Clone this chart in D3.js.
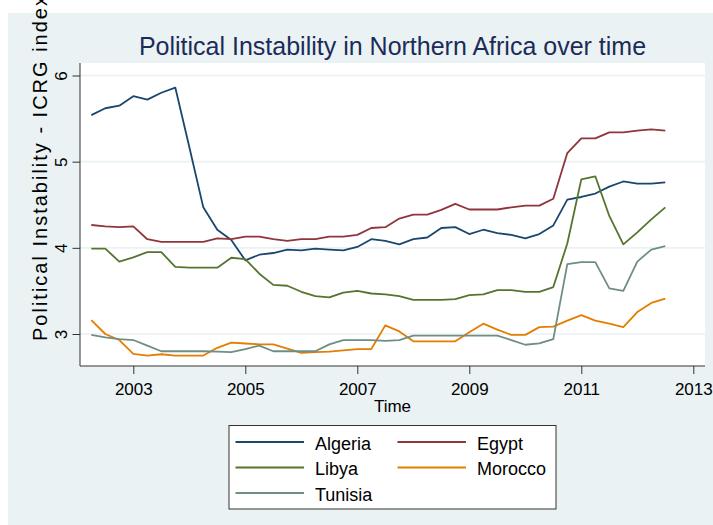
<!DOCTYPE html>
<html>
<head>
<meta charset="utf-8">
<script src="https://cdn.jsdelivr.net/npm/d3@7"></script>
<style>
  body { margin: 0; background: #fff; }
  text { font-family: "Liberation Sans", Arial, sans-serif; }
</style>
</head>
<body>
<div id="chart"></div>
<script>
// Quarterly observations, 2002q2 - 2012q3
const quarters = [
    "2002q2", "2002q3", "2002q4",
    "2003q1", "2003q2", "2003q3", "2003q4",
    "2004q1", "2004q2", "2004q3", "2004q4",
    "2005q1", "2005q2", "2005q3", "2005q4",
    "2006q1", "2006q2", "2006q3", "2006q4",
    "2007q1", "2007q2", "2007q3", "2007q4",
    "2008q1", "2008q2", "2008q3", "2008q4",
    "2009q1", "2009q2", "2009q3", "2009q4",
    "2010q1", "2010q2", "2010q3", "2010q4",
    "2011q1", "2011q2", "2011q3", "2011q4",
    "2012q1", "2012q2", "2012q3"
];

const algeria = [5.54, 5.62, 5.65, 5.76, 5.72, 5.80, 5.86, 5.17, 4.47, 4.21, 4.09,
    3.855, 3.92, 3.94, 3.98, 3.97, 3.99, 3.98, 3.97, 4.01, 4.10, 4.08,
    4.04, 4.10, 4.12, 4.23, 4.24, 4.16, 4.21, 4.17, 4.15, 4.11, 4.16,
    4.26, 4.56, 4.59, 4.63, 4.71, 4.77, 4.745, 4.745, 4.76];
const egypt = [4.265, 4.25, 4.24, 4.25, 4.10, 4.07, 4.07, 4.07, 4.07, 4.11, 4.10,
    4.13, 4.13, 4.10, 4.08, 4.10, 4.10, 4.13, 4.13, 4.15, 4.23, 4.24,
    4.34, 4.385, 4.385, 4.44, 4.51, 4.445, 4.445, 4.445, 4.47, 4.49, 4.49,
    4.57, 5.10, 5.27, 5.27, 5.34, 5.34, 5.36, 5.375, 5.36];
const libya = [3.99, 3.99, 3.84, 3.89, 3.95, 3.95, 3.78, 3.77, 3.77, 3.77, 3.885,
    3.87, 3.70, 3.57, 3.56, 3.49, 3.44, 3.425, 3.48, 3.50, 3.47, 3.46,
    3.44, 3.395, 3.395, 3.395, 3.405, 3.45, 3.46, 3.51, 3.51, 3.49, 3.49,
    3.545, 4.05, 4.795, 4.83, 4.37, 4.04, 4.18, 4.33, 4.47];
const morocco = [3.16, 3.00, 2.93, 2.77, 2.75, 2.765, 2.75, 2.75, 2.75, 2.84, 2.90,
    2.89, 2.88, 2.88, 2.83, 2.78, 2.79, 2.795, 2.81, 2.825, 2.825, 3.10,
    3.03, 2.915, 2.915, 2.915, 2.915, 3.02, 3.12, 3.05, 2.99, 2.99, 3.08,
    3.085, 3.155, 3.22, 3.155, 3.12, 3.08, 3.255, 3.36, 3.41];
const tunisia = [2.99, 2.96, 2.94, 2.93, 2.865, 2.80, 2.80, 2.80, 2.80, 2.795, 2.79,
    2.825, 2.865, 2.80, 2.80, 2.80, 2.80, 2.88, 2.93, 2.93, 2.93, 2.92,
    2.93, 2.98, 2.98, 2.98, 2.98, 2.98, 2.98, 2.98, 2.93, 2.875, 2.89,
    2.94, 3.81, 3.835, 3.835, 3.53, 3.50, 3.84, 3.98, 4.02];

const countries = ["Algeria", "Egypt", "Libya", "Morocco", "Tunisia"];
const seriesValues = [algeria, egypt, libya, morocco, tunisia];
const colors = ["#1a476f", "#90353b", "#55752f", "#e37e00", "#6e8e84"];

const xTicks = [2003, 2005, 2007, 2009, 2011, 2013];
const yTicks = [3, 4, 5, 6];

// "2002q2" -> 2002.25
const toYear = q => +q.slice(0, 4) + (+q.slice(5) - 1) / 4;

const width = 713, height = 525;
const plot = { left: 80, right: 705, top: 63, bottom: 366 };

const svg = d3.select("#chart")
    .append("svg")
    .attr("width", width)
    .attr("height", height);

// Graph region background
svg.append("rect")
    .attr("x", 8).attr("y", 13)
    .attr("width", width - 8).attr("height", height - 13)
    .attr("fill", "#eaf2f3");

// Plot region
svg.append("rect")
    .attr("x", plot.left).attr("y", plot.top)
    .attr("width", plot.right - plot.left).attr("height", plot.bottom - plot.top)
    .attr("fill", "#fff");

const x = d3.scaleLinear().domain([2002.25, 2013]).range([91.3, 693.3]);
const y = d3.scaleLinear().domain([3, 6]).range([334, 75.5]);

// Grid lines
svg.append("g")
    .selectAll("line")
    .data(yTicks)
    .enter()
    .append("line")
    .attr("x1", plot.left).attr("x2", plot.right)
    .attr("y1", d => y(d)).attr("y2", d => y(d))
    .attr("stroke", "#eaf2f3")
    .attr("stroke-width", 1.6);

// Y axis
const yAxis = svg.append("g")
    .attr("transform", `translate(${plot.left},0)`)
    .call(d3.axisLeft(y).tickValues(yTicks).tickSize(7.5).tickSizeOuter(0).tickFormat(d3.format("d")));
yAxis.select(".domain").attr("d", `M0,${plot.top}V${plot.bottom}`).attr("stroke", "#333");
yAxis.selectAll(".tick line").attr("stroke", "#333");
yAxis.selectAll(".tick text")
    .attr("x", 0).attr("dy", null)
    .attr("transform", "translate(-13.5,0) rotate(-90)")
    .attr("text-anchor", "middle")
    .attr("font-size", 17)
    .attr("fill", "#000");

// X axis
const xAxis = svg.append("g")
    .attr("transform", `translate(0,${plot.bottom})`)
    .call(d3.axisBottom(x).tickValues(xTicks).tickSize(8).tickSizeOuter(0).tickFormat(d3.format("d")));
xAxis.select(".domain").attr("d", `M${plot.left},0H${plot.right}`).attr("stroke", "#333");
xAxis.selectAll(".tick line").attr("stroke", "#333");
xAxis.selectAll(".tick text")
    .attr("y", 29).attr("dy", null)
    .attr("font-size", 17)
    .attr("fill", "#000");

// Lines
const line = d3.line()
    .x((d, i) => x(toYear(quarters[i])))
    .y(d => y(d));

svg.append("g")
    .selectAll("path")
    .data(seriesValues)
    .enter()
    .append("path")
    .attr("d", line)
    .attr("fill", "none")
    .attr("stroke", (d, i) => colors[i])
    .attr("stroke-width", 1.8)
    .attr("stroke-linejoin", "round");

// Titles
svg.append("text")
    .attr("x", (plot.left + plot.right) / 2)
    .attr("y", 55)
    .attr("text-anchor", "middle")
    .attr("font-size", 25)
    .attr("fill", "#1c2b59")
    .text("Political Instability in Northern Africa over time");

svg.append("text")
    .attr("x", (plot.left + plot.right) / 2)
    .attr("y", 411.5)
    .attr("text-anchor", "middle")
    .attr("font-size", 17)
    .text("Time");

svg.append("text")
    .attr("transform", "translate(46.5,341) rotate(-90)")
    .attr("font-size", 20)
    .attr("letter-spacing", "2px")
    .text("Political Instability - ICRG index");

// Legend
const legend = svg.append("g");
legend.append("rect")
    .attr("x", 229).attr("y", 425.5)
    .attr("width", 327).attr("height", 83.5)
    .attr("fill", "#fff")
    .attr("stroke", "#333");

const item = legend.selectAll(".item")
    .data(countries)
    .enter()
    .append("g")
    .attr("transform", (d, i) => `translate(${i % 2 ? 397.5 : 235.5},${442 + Math.floor(i / 2) * 25.5})`);

item.append("line")
    .attr("x1", 0).attr("x2", 68.5)
    .attr("stroke", (d, i) => colors[i])
    .attr("stroke-width", 1.8);

item.append("text")
    .attr("x", 79.5)
    .attr("y", 7.5)
    .attr("font-size", 18)
    .text(d => d);
</script>
</body>
</html>
